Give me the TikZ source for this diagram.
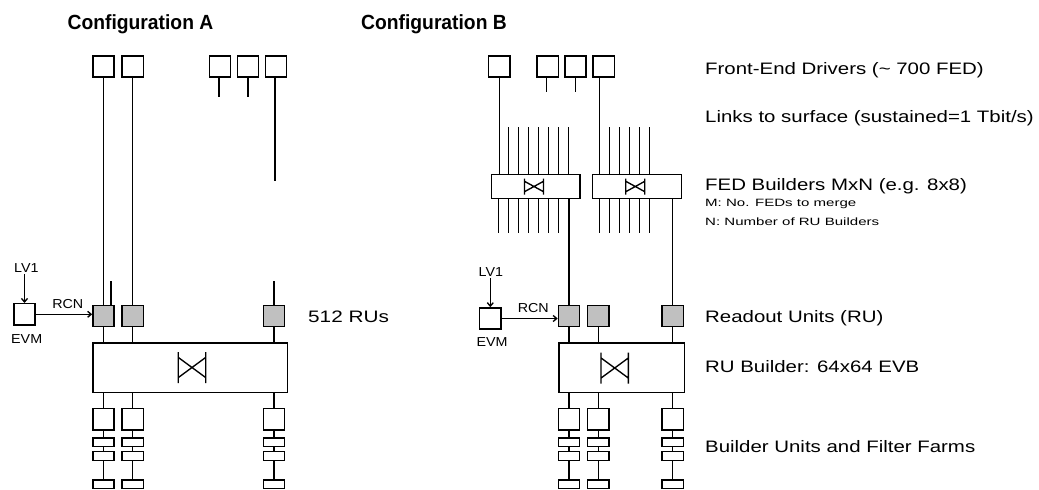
\documentclass[tikz,border=0pt]{standalone}
\usepackage{fontspec}
\usepackage{graphicx}
\setmainfont{Liberation Sans}
\usetikzlibrary{arrows.meta,calc}
\definecolor{rugray}{RGB}{192,192,192}
\newcommand\hsc[2]{\scalebox{#1}[1]{#2}}
\begin{document}
\begin{tikzpicture}[x=1pt,y=-1pt,
 lw/.style={line width=1.35pt},
 box/.style={draw,line width=1.35pt,fill=white,inner sep=0pt,minimum width=21.3pt,minimum height=21.3pt},
 rubox/.style={box,fill=rugray},
 slab/.style={box,minimum height=8.6pt},
 swbox/.style={box,minimum height=49.8pt},
 fedb/.style={box,minimum width=88.4pt,minimum height=24pt},
 lab/.style={anchor=base west,inner sep=0pt,font=\fontsize{16.6}{18}\selectfont},
 sml/.style={anchor=base west,inner sep=0pt,font=\fontsize{10.6}{12}\selectfont},
 smalllab/.style={anchor=base,inner sep=1pt,font=\fontsize{13}{15}\selectfont},
 ttl/.style={anchor=base,inner sep=0pt,font=\bfseries\fontsize{20.5}{24}\selectfont},
 arr/.style={line width=1.35pt,-{Straight Barb[length=3.5pt,width=6pt]}},
 pics/bowtie/.style={code={\draw[line width=1.35pt] (-1,-1)--(-1,1) (1,-1)--(1,1) (-1,-0.65)--(1,0.65) (-1,0.65)--(1,-0.65);}}
]
\useasboundingbox (0,0) rectangle (1039,490);

% titles
\node[ttl] (ta) at (140.5,29) {\hsc{0.94}{Configuration A}};
\node[ttl] (tb) at (434,29) {\hsc{0.94}{Configuration B}};

% ---------------- Configuration A
\node[box] (fa1) at (103.5,66.5) {};
\node[box] (fa2) at (132.8,66.5) {};
\node[box] (fa3) at (220,66.5) {};
\node[box] (fa4) at (248,66.5) {};
\node[box] (fa5) at (276,66.5) {};

\node[rubox] (rua1) at (103.5,316) {};
\node[rubox] (rua2) at (132.8,316) {};
\node[rubox] (rua3) at (274,316) {};

\node[swbox,minimum width=194.8pt] (eva) at (190.3,367.8) {};
\pic[xscale=13.7,yscale=15.5] at (192,367.5) {bowtie};

\draw[lw] (fa1) -- (rua1);
\draw[lw] (fa2) -- (rua2);
\draw[lw] ([xshift=-1pt]fa3.south) -- ++(0,19.5);
\draw[lw] (fa4.south) -- ++(0,19.5);
\draw[lw] ([xshift=-1pt]fa5.south) -- ++(0,103);
\draw[lw] ([xshift=7.5pt]rua1.north) -- ++(0,-24);
\draw[lw] (rua3.north) -- ++(0,-24);
\foreach \r in {rua1,rua2,rua3} \draw[lw] (\r) -- (\r |- eva.north);

\node[box] (evma) at (24.5,314.3) {};
\node[smalllab] (lv1a) at (26.3,272.7) {\hsc{1.1}{LV1}};
\node[smalllab] (evmla) at (26.7,343.3) {\hsc{1.1}{EVM}};
\node[smalllab] (rcna) at (67.8,308.3) {\hsc{1.1}{RCN}};
\draw[arr] (lv1a.south -| evma.north) -- (evma.north);
\draw[arr] (evma.east) -- (evma.east -| rua1.west);

\node[lab] (l9) at (308,322) {\hsc{1.25}{512 RUs}};

% ---------------- Configuration B
\node[box] (fb1) at (499.2,66.5) {};
\node[box] (fb2) at (547.8,66.5) {};
\node[box] (fb3) at (575.5,66.5) {};
\node[box] (fb4) at (603.8,66.5) {};
\draw[lw] ([xshift=-1pt]fb2.south) -- ++(0,14);
\draw[lw] (fb3.south) -- ++(0,14);

\node[fedb] (b1) at (535.85,186.6) {};
\node[fedb] (b2) at (637,186.6) {};
\pic[xscale=9.5,yscale=8] at (534,186.5) {bowtie};
\pic[xscale=9.5,yscale=8] at (635.3,186.5) {bowtie};

\draw[lw] (fb1.south) -- (fb1.south |- b1.north);
\foreach \k in {1,...,7} \draw[lw] ([xshift=7.6pt+10pt*\k]b1.north west) -- ++(0,-46.7);
\foreach \k in {0,...,6} \draw[lw] ([xshift=7.6pt+10pt*\k]b1.south west) -- ++(0,33.4);
\coordinate (b2in) at ([xshift=7.6pt]b2.north west);
\draw[lw] (b2in) -- (b2in |- fb4.south);
\foreach \k in {1,...,5} \draw[lw] ([xshift=7.6pt+10pt*\k]b2.north west) -- ++(0,-46.7);
\foreach \k in {0,...,5} \draw[lw] ([xshift=7.6pt+10pt*\k]b2.south west) -- ++(0,33.4);

\node[rubox] (rub1) at (569,316) {};
\node[rubox] (rub2) at (598.2,316) {};
\node[rubox] (rub3) at (672.8,316) {};
\draw[lw] (b1.south -| rub1) -- (rub1);
\draw[lw] (b2.south -| rub3) -- (rub3);

\node[swbox,minimum width=125.4pt] (evb) at (621.7,367.8) {};
\pic[xscale=13.7,yscale=15.5] at (614.7,368) {bowtie};
\foreach \r in {rub1,rub2,rub3} \draw[lw] (\r) -- (\r |- evb.north);

\node[box] (evmb) at (490.3,318.5) {};
\node[smalllab] (lv1b) at (490.8,276.7) {\hsc{1.1}{LV1}};
\node[smalllab] (evmlb) at (492,346.7) {\hsc{1.1}{EVM}};
\node[smalllab] (rcnb) at (533.3,312.7) {\hsc{1.1}{RCN}};
\draw[arr] (lv1b.south -| evmb.north) -- (evmb.north);
\draw[arr] (evmb.east) -- (evmb.east -| rub1.west);

% builder units and filter farms
\foreach \n/\x/\p in {a1/103.5/eva, a2/132.8/eva, a3/274/eva, b1/569/evb, b2/598.2/evb, b3/672.8/evb}{
  \node[box] (bu\n) at (\x,419.2) {};
  \node[slab] (ra\n) at (\x,442.2) {};
  \node[slab] (rb\n) at (\x,456) {};
  \node[slab] (rc\n) at (\x,484.2) {};
  \draw[lw] (\p.south -| bu\n) -- (bu\n) -- (ra\n) -- (rb\n) -- (rc\n);
}

% right-hand labels
\node[lab] (l1) at (705,74.5) {\hsc{1.23}{Front-End Drivers (\textasciitilde{} 700 FED)}};
\node[lab] (l2) at (705,122.7) {\hsc{1.23}{Links to surface (sustained=1 Tbit/s)}};
\node[lab] (l3) at (705,190) {\hsc{1.23}{FED Builders MxN (e.g. 8x8)}};
\node[sml] (l4) at (705,206.7) {\hsc{1.42}{M: No. FEDs to merge}};
\node[sml] (l5) at (705,225) {\hsc{1.42}{N: Number of RU Builders}};
\node[lab] (l6) at (705,322) {\hsc{1.23}{Readout Units (RU)}};
\node[lab] (l7) at (705,372) {\hsc{1.23}{RU Builder: 64x64 EVB}};
\node[lab] (l8) at (705,452) {\hsc{1.23}{Builder Units and Filter Farms}};
\end{tikzpicture}
\end{document}
